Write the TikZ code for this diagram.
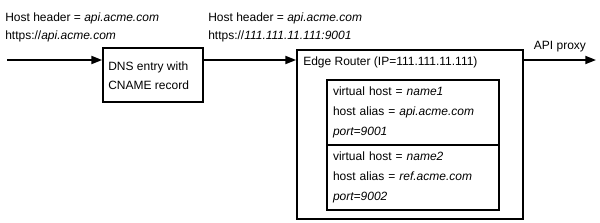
\documentclass[tikz,border=0pt]{standalone}
\usepackage{fontspec}
\setmainfont{Liberation Sans}
\usepackage{tikz}
\usetikzlibrary{arrows.meta,positioning}

\tikzset{
  flow/.style={line width=1.3pt,-{Triangle[length=8pt,width=6pt]}},
  boxstyle/.style={draw,line width=1.3pt,rectangle,inner sep=0pt},
  hostbox/.style={draw,line width=1.3pt,rectangle,align=left,inner sep=4.5pt,
    text width=120pt,minimum height=48.75pt,font=\fontsize{9}{15}\selectfont},
  lbl/.style={align=left,inner sep=0pt,font=\fontsize{9}{13.5}\selectfont}
}

\begin{document}
\begin{tikzpicture}[x=0.75pt,y=-0.75pt]
			\useasboundingbox (0,0) rectangle (600,222);
			
			% request headers
			\node[lbl,anchor=west] (hdrin) at (5,27) {Host header = \textit{api.acme.com}\\https://\textit{api.acme.com}};
			\node[lbl,anchor=west] (hdrout) at (208,27) {Host header = \textit{api.acme.com}\\https://\textit{111.111.11.111:9001}};
			
			% DNS
			\node[boxstyle,minimum width=75pt,minimum height=40.5pt] (dns) at (153,75) {};
			\node[lbl,anchor=west,font=\fontsize{9}{14.5}\selectfont] (dnstxt) at (108,75.5) {DNS entry with\\CNAME record};
			
			% edge router
			\node[boxstyle,minimum width=169.5pt,minimum height=126.75pt] (router) at (410,134.5) {};
			\node[lbl,anchor=west,font=\fontsize{9}{13.5}\selectfont] (routertxt) at (303,62) {Edge Router (IP=111.111.11.111)};
			
			\node[hostbox] (vhost1) at (413,112.5) {virtual host = \textit{name1}\\host alias = \textit{api.acme.com}\\\textit{port=9001}};
			\node[hostbox] (vhost2) at (413,177.5) {virtual host = \textit{name2}\\host alias = \textit{ref.acme.com}\\\textit{port=9002}};
			
			% arrows
			\coordinate (client) at (7,60);
			\coordinate (proxy) at (596,60);
			\draw[flow] (client) -- (dns.west |- client);
			\draw[flow] (dns.east |- client) -- (router.west |- client);
			\draw[flow] (router.east |- client) -- node[lbl,above=5pt] (proxytxt) {API proxy} (proxy);
			
		\end{tikzpicture}
\end{document}
